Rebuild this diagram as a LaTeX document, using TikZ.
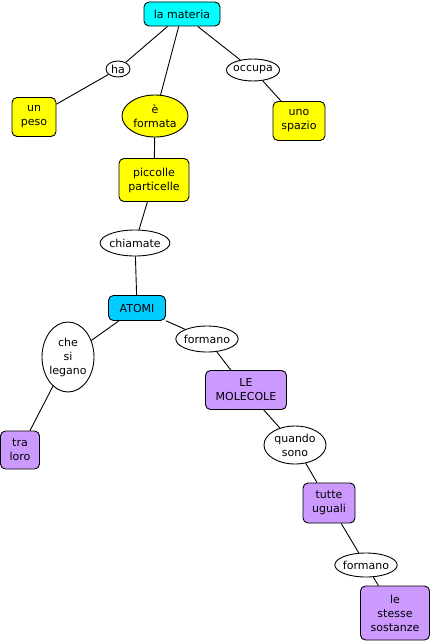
\documentclass[tikz,border=0pt]{standalone}
\usepackage{fontspec}
\setmainfont{DejaVu Sans}
\usetikzlibrary{shapes.geometric}
\definecolor{giallo}{RGB}{255,255,0}
\definecolor{ciano}{RGB}{0,255,255}
\definecolor{azzurro}{RGB}{0,204,255}
\definecolor{lilla}{RGB}{204,153,255}
\begin{document}
\begin{tikzpicture}[x=1pt,y=-1pt,
    font=\fontsize{11}{14}\selectfont, line width=0.9pt,
    concetto/.style={draw, rounded corners=5pt, align=center, inner xsep=4pt, inner ysep=4pt},
    legame/.style={draw, ellipse, fill=white, align=center, inner sep=-1pt}]
        \useasboundingbox (0,0) rectangle (432,642);

        % concetti
        \node[concetto, fill=ciano, minimum width=76pt, minimum height=24pt] (materia) at (182,14) {la materia};
        \node[concetto, fill=giallo, minimum width=44pt, minimum height=39pt] (peso) at (34,117) {un\\peso};
        \node[concetto, fill=giallo, minimum width=52pt, minimum height=39pt] (spazio) at (299,121) {uno\\spazio};
        \node[concetto, fill=giallo, minimum width=70pt, minimum height=43pt] (particelle) at (154,180) {piccolle\\particelle};
        \node[concetto, fill=azzurro, minimum width=57pt, minimum height=25pt] (atomi) at (137,308) {ATOMI};
        \node[concetto, fill=lilla, minimum width=39pt, minimum height=38pt, inner xsep=2pt] (loro) at (20,450) {tra\\loro};
        \node[concetto, fill=lilla, minimum width=81pt, minimum height=39pt] (molecole) at (246,390) {LE\\MOLECOLE};
        \node[concetto, fill=lilla, minimum width=52pt, minimum height=40pt] (uguali) at (329,503) {tutte\\uguali};
        \node[concetto, fill=lilla, minimum width=69pt, minimum height=54pt, inner xsep=2pt] (sostanze) at (395,613) {le\\stesse\\sostanze};

        % parole legame
        \node[legame, minimum width=24pt, minimum height=16pt] (ha) at (118,69) {ha};
        \node[legame, minimum width=50pt, minimum height=22pt] (occupa) at (253,70) {occupa};
        \node[legame, fill=giallo, minimum width=66pt, minimum height=42pt] (formata) at (155,116) {è\\formata};
        \node[legame, minimum width=64pt, minimum height=26pt] (chiamate) at (135,243) {chiamate};
        \node[legame, minimum width=52pt, minimum height=70pt] (legano) at (68,357) {che\\si\\legano};
        \node[legame, minimum width=60pt, minimum height=26pt] (formano) at (207,339) {formano};
        \node[legame, minimum width=62pt, minimum height=38pt] (quando) at (295,445) {quando\\sono};
        \node[legame, minimum width=58pt, minimum height=24pt] (formano2) at (366,565) {formano};

        % collegamenti
        \draw (materia) -- (ha);
        \draw (ha) -- (peso);
        \draw (materia) -- (formata);
        \draw (formata) -- (particelle);
        \draw (materia) -- (occupa);
        \draw (occupa) -- (spazio);
        \draw (particelle) -- (chiamate);
        \draw (chiamate) -- (atomi);
        \draw (atomi) -- (legano);
        \draw (legano) -- (loro);
        \draw (atomi) -- (formano);
        \draw (formano) -- (molecole);
        \draw (molecole) -- (quando);
        \draw (quando) -- (uguali);
        \draw (uguali) -- (formano2);
        \draw (formano2) -- (sostanze);
    \end{tikzpicture}
\end{document}
